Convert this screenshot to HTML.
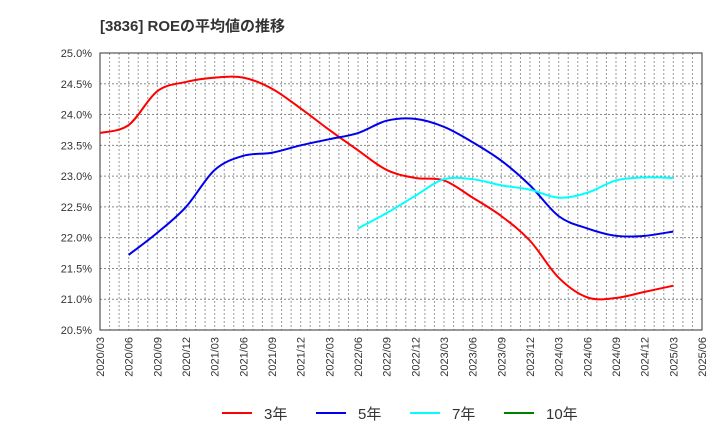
<!DOCTYPE html>
<html><head><meta charset="utf-8"><style>
body{margin:0;background:#fff;font-family:"Liberation Sans","Noto Sans CJK JP",sans-serif;}
</style></head><body>
<svg width="720" height="440" xmlns="http://www.w3.org/2000/svg" font-family="Liberation Sans, Noto Sans CJK JP, sans-serif">
<text x="100" y="31" font-size="15" font-weight="bold" fill="#333">[3836]  ROEの平均値の推移</text>
<g id="grid"></g><g id="axes"></g><g id="series"></g><g id="legend"></g>
</svg>
<script>
const xLabels=["2020/03","2020/06","2020/09","2020/12","2021/03","2021/06","2021/09","2021/12","2022/03","2022/06","2022/09","2022/12","2023/03","2023/06","2023/09","2023/12","2024/03","2024/06","2024/09","2024/12","2025/03","2025/06"];
const yTicks=[20.5,21.0,21.5,22.0,22.5,23.0,23.5,24.0,24.5,25.0];
const s3=[23.7,23.83,24.38,24.53,24.6,24.6,24.42,24.1,23.75,23.42,23.1,22.97,22.93,22.65,22.35,21.95,21.35,21.03,21.02,21.12,21.22];
const s5=[null,21.72,22.08,22.5,23.1,23.33,23.38,23.5,23.6,23.7,23.9,23.93,23.8,23.55,23.25,22.85,22.35,22.15,22.03,22.03,22.1];
const s7=[null,null,null,null,null,null,null,null,null,22.15,22.4,22.68,22.95,22.95,22.85,22.78,22.65,22.73,22.93,22.98,22.97];
const s10=[];
const L=100,R=702,T=53,B=330,ymin=20.5,ymax=25;
const NS="http://www.w3.org/2000/svg";
const xs=i=>L+i*(R-L)/(xLabels.length-1);
const ys=v=>B-(v-ymin)/(ymax-ymin)*(B-T);
function mk(t,a,p){const e=document.createElementNS(NS,t);for(const k in a)e.setAttribute(k,a[k]);p.appendChild(e);return e;}
const grid=document.getElementById('grid'),axes=document.getElementById('axes'),ser=document.getElementById('series'),leg=document.getElementById('legend');
mk('rect',{x:L,y:T,width:R-L,height:B-T,fill:'#fff'},grid);
for(let m=1;m<(xLabels.length-1)*3;m++){const x=L+m*(R-L)/((xLabels.length-1)*3);
const g=mk('line',{x1:x,x2:x,y1:T,y2:B,stroke:'#999','stroke-width':1,'stroke-dasharray':'2,2'},grid);

}
yTicks.forEach(v=>{const y=ys(v);
const g=mk('line',{x1:L,x2:R,y1:y,y2:y,stroke:'#888','stroke-width':1,'stroke-dasharray':'2,2'},grid);


const t=mk('text',{x:92,y:y+4,'font-size':11,'text-anchor':'end',fill:'#333'},axes);t.textContent=v.toFixed(1)+'%';

});
xLabels.forEach((l,i)=>{const x=xs(i);
const t=mk('text',{x:0,y:0,'font-size':11,'text-anchor':'end',fill:'#333',transform:`translate(${x+4},337) rotate(-90)`},axes);t.textContent=l;

});
const fr=mk('rect',{x:L,y:T,width:R-L,height:B-T,fill:'none',stroke:'#333','stroke-width':1},axes);


function path(data){const p=[];data.forEach((v,i)=>{if(v!=null)p.push([xs(i),ys(v)]);});
if(p.length<2)return '';let d=`M${p[0][0]},${p[0][1]}`;
for(let i=0;i<p.length-1;i++){const p0=p[i-1]||p[i],p1=p[i],p2=p[i+1],p3=p[i+2]||p2;
d+=` C${p1[0]+(p2[0]-p0[0])/6},${p1[1]+(p2[1]-p0[1])/6} ${p2[0]-(p3[0]-p1[0])/6},${p2[1]-(p3[1]-p1[1])/6} ${p2[0]},${p2[1]}`;}return d;}
const series=[[s3,'#ff0000','3年','series-3y'],[s5,'#0000ee','5年','series-5y'],[s7,'#00ffff','7年','series-7y'],[s10,'#008000','10年','series-10y']];
const lx=[222,316,410,504];
series.forEach((s,k)=>{const d=path(s[0]);if(d){const e=mk('path',{d:d,fill:'none',stroke:s[1],'stroke-width':2},ser);

}
const ln=mk('line',{x1:lx[k],x2:lx[k]+30,y1:413,y2:413,stroke:s[1],'stroke-width':2},leg);


const t=mk('text',{x:lx[k]+42,y:419,'font-size':15,fill:'#333'},leg);t.textContent=s[2];

});
</script>
</body></html>
